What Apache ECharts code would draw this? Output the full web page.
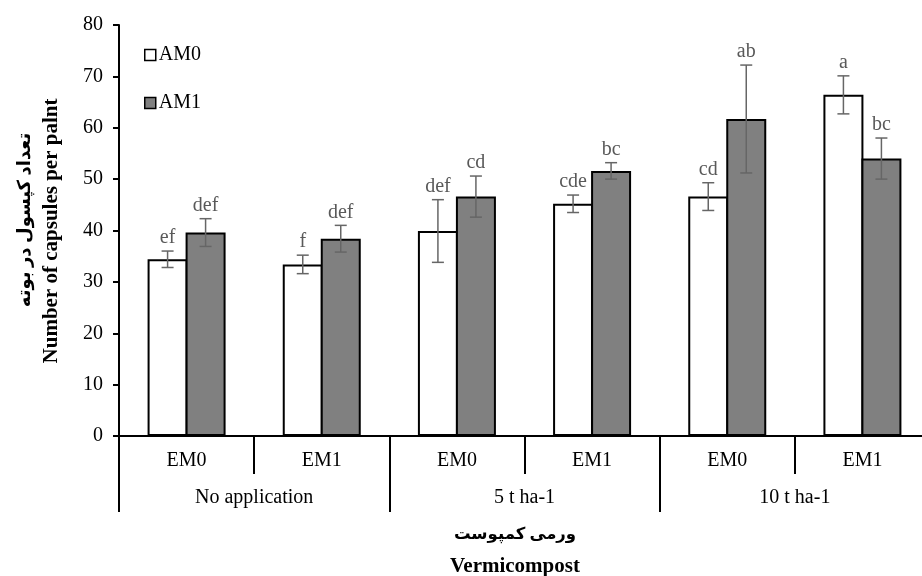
<!DOCTYPE html>
<html>
<head>
<meta charset="utf-8">
<script src="https://cdn.jsdelivr.net/npm/echarts@6/dist/echarts.min.js"></script>
<style>
html,body{margin:0;padding:0;background:#fff;}
#main{width:922px;height:576px;}
</style>
</head>
<body>
<div id="main"></div>
<script>
var subCats = ['EM0','EM1','EM0','EM1','EM0','EM1'];
var groups = ['No application','5 t ha-1','10 t ha-1'];
var am0 = [34.4, 33.4, 39.9, 45.2, 46.6, 66.4];
var am0Err = [1.6, 1.8, 6.1, 1.7, 2.7, 3.7];
var am0Let = ['ef','f','def','cde','cd','a'];
var am1 = [39.6, 38.4, 46.6, 51.6, 61.7, 54.0];
var am1Err = [2.7, 2.6, 4.0, 1.6, 10.5, 4.0];
var am1Let = ['def','def','cd','bc','ab','bc'];
var yTicks = [0, 80, 10];

var font = "'Liberation Serif', 'DejaVu Serif', 'DejaVu Sans'";
var barW = 40;

function errData(vals, errs)
{
	var out = [];
	for(var i=0;i<vals.length;i++)
	{
		out.push([i, vals[i], errs[i]]);
	}
	return out;
}

function errRender(offset, lets)
{
	return function(params, api){
		var c = api.coord([api.value(0), api.value(1)]);
		var x = c[0] + offset;
		var top = api.coord([api.value(0), api.value(1) + api.value(2)])[1];
		var bot = api.coord([api.value(0), api.value(1) - api.value(2)])[1];
		var st = {stroke:'#666', lineWidth:1.5};
		return {
			type:'group',
			children:[
				{type:'line', shape:{x1:x, y1:top, x2:x, y2:bot}, style:st},
				{type:'line', shape:{x1:x-6, y1:top, x2:x+6, y2:top}, style:st},
				{type:'line', shape:{x1:x-6, y1:bot, x2:x+6, y2:bot}, style:st},
				{type:'text', style:{text:lets[params.dataIndex], x:x, y:top-3, align:'center', verticalAlign:'bottom',
					fill:'#595959', fontSize:20, fontFamily:font}}
			]
		};
	};
}

var chart = echarts.init(document.getElementById('main'));
var option = {
	animation:false,
	textStyle:{fontFamily:font},
	grid:{left:119, top:25, width:811, height:411, outerBoundsMode:'none'},
	legend:{
		left:139, top:40, orient:'vertical', itemGap:28, icon:'rect',
		itemWidth:11, itemHeight:11,
		itemStyle:{borderWidth:1.5, borderColor:'#000'},
		textStyle:{fontSize:20, color:'#000', fontFamily:font, padding:[0,0,0,-2]},
		data:['AM0','AM1']
	},
	xAxis:[
		{
			type:'category', data:subCats,
			axisLine:{lineStyle:{color:'#000', width:2}},
			axisTick:{show:true, interval:0, length:38, lineStyle:{color:'#000', width:2}},
			axisLabel:{color:'#000', fontSize:20, margin:15, interval:0, fontFamily:font}
		},
		{
			type:'category', data:groups, position:'bottom', offset:38,
			axisLine:{show:false},
			axisTick:{show:true, interval:0, length:38, lineStyle:{color:'#000', width:2}},
			axisLabel:{color:'#000', fontSize:20, margin:14, interval:0, fontFamily:font}
		}
	],
	yAxis:{
		type:'value', min:yTicks[0], max:yTicks[1], interval:yTicks[2],
		splitLine:{show:false},
		axisLine:{show:true, lineStyle:{color:'#000', width:2}},
		axisTick:{show:true, length:6, lineStyle:{color:'#000', width:2}},
		axisLabel:{color:'#000', fontSize:20, margin:16, fontFamily:font}
	},
	graphic:[
		{type:'text', x:25, y:220, rotation:Math.PI/2, style:{text:'تعداد کپسول در بوته', align:'center', verticalAlign:'middle',
			font:"bold 18px 'Liberation Serif', 'DejaVu Sans'", fill:'#000'}},
		{type:'text', x:52, y:231, rotation:Math.PI/2, style:{text:'Number of capsules per palnt', align:'center', verticalAlign:'middle',
			font:"bold 21px 'Liberation Serif'", fill:'#000'}},
		{type:'text', x:515, y:535, style:{text:'ورمی کمپوست', align:'center', verticalAlign:'middle',
			font:"bold 16.5px 'Liberation Serif', 'DejaVu Sans'", fill:'#000'}},
		{type:'text', x:515, y:567, style:{text:'Vermicompost', align:'center', verticalAlign:'middle',
			font:"bold 21px 'Liberation Serif'", fill:'#000'}}
	],
	series:[
		{
			name:'AM0', type:'bar', data:am0, barWidth:barW, barGap:'-5%',
			itemStyle:{color:'#fff', borderColor:'#000', borderWidth:2}
		},
		{
			name:'AM1', type:'bar', data:am1, barWidth:barW, barGap:'-5%',
			itemStyle:{color:'#808080', borderColor:'#000', borderWidth:2}
		},
		{
			type:'custom', data:errData(am0, am0Err), renderItem:errRender(-barW/2 + 1, am0Let), z:5
		},
		{
			type:'custom', data:errData(am1, am1Err), renderItem:errRender(barW/2 - 1, am1Let), z:5
		}
	]
};
chart.setOption(option);
</script>
</body>
</html>
